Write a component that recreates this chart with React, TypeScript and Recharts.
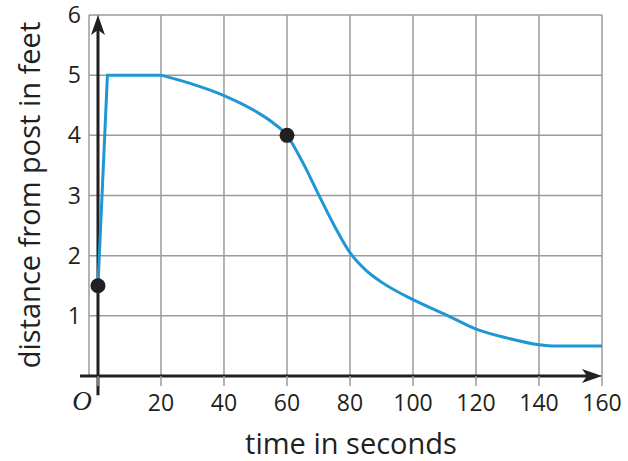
import { ComposedChart, Line, Scatter, XAxis, YAxis, CartesianGrid, ReferenceLine } from 'recharts';

const times = [0, 3, 20, 30, 40, 50, 55, 60, 65, 70, 75, 80, 85, 90, 100, 110, 120, 130, 140, 145, 160];
const distances = [1.5, 5, 5, 4.85, 4.66, 4.4, 4.23, 4.0, 3.55, 3.02, 2.5, 2.05, 1.76, 1.56, 1.27, 1.03, 0.78, 0.63, 0.52, 0.5, 0.5];

const markedTimes = [0, 60];
const markedDistances = [1.5, 4];

const xTicks = [0, 20, 40, 60, 80, 100, 120, 140, 160];
const yTicks = [1, 2, 3, 4, 5, 6];

const points = times.map((t, i) => ({ t, d: distances[i] }));
// the climb and the flat top are straight, the rest is a smooth curve
const rise = points.filter((p) => p.t <= 20);
const fall = points.filter((p) => p.t >= 20);
const marks = markedTimes.map((t, i) => ({ t, d: markedDistances[i] }));

const INK = '#231f20';
const GRID = '#9b9b9b';
const BLUE = '#1f97d4';
const FONT = '"Open Sans", sans-serif';

function XTick(props: any) {
  const { x, y, payload } = props;
  if (payload.value === 0) {
    return (
      <text x={x - 16} y={y - 4} dy="0.71em" textAnchor="middle" fontFamily='"Liberation Serif", serif'
        fontStyle="italic" fontSize={27} fill={INK}>
        O
      </text>
    );
  }
  return (
    <text x={x} y={y} dy="0.71em" textAnchor="middle" fontFamily={FONT} fontSize={23} fill={INK}>
      {payload.value}
    </text>
  );
}

// axis line drawn as a segment with an arrow head at its far end
function arrowLine(dir: 'up' | 'right') {
  return (props: any) => {
    const { x1, y1, x2, y2 } = props;
    const head = dir === 'up'
      ? `${x2},${y2} ${x2 - 7},${y2 + 20} ${x2},${y2 + 15} ${x2 + 7},${y2 + 20}`
      : `${x2},${y2} ${x2 - 20},${y2 - 7} ${x2 - 15},${y2} ${x2 - 20},${y2 + 7}`;
    return (
      <g>
        <line x1={x1} y1={y1} x2={dir === 'up' ? x2 : x2 - 10} y2={dir === 'up' ? y2 + 10 : y2}
          stroke={INK} strokeWidth={3} />
        <polygon points={head} fill={INK} />
      </g>
    );
  };
}

export default function App() {
  return (
    <div style={{ position: 'absolute', left: 0, top: 0, width: 628, height: 461, background: '#fff' }}>
      <ComposedChart width={628} height={461} margin={{ top: 15, right: 26, bottom: 55, left: 29 }}>
        <CartesianGrid stroke={GRID} strokeWidth={1.5} />
        <XAxis
          type="number"
          dataKey="t"
          domain={[-2.85, 160]}
          allowDataOverflow
          ticks={xTicks}
          height={30}
          axisLine={false}
          tickLine={{ stroke: GRID, strokeWidth: 1.5 }}
          tickSize={10}
          tickMargin={9}
          tick={<XTick />}
          interval={0}
          label={{
            content: () => (
              <text x={351} y={454} textAnchor="middle" fontFamily={FONT} fontSize={29} fill={INK}>
                time in seconds
              </text>
            ),
          }}
        />
        <YAxis
          type="number"
          dataKey="d"
          domain={[0, 6]}
          ticks={yTicks}
          width={60}
          axisLine={false}
          tickLine={false}
          interval={0}
          tick={{ fontFamily: FONT, fontSize: 23, fill: INK }}
          label={{
            content: () => (
              <text x={0} y={0} transform="translate(40,195) rotate(-90)" textAnchor="middle"
                fontFamily={FONT} fontSize={29} fill={INK}>
                distance from post in feet
              </text>
            ),
          }}
        />
        <ReferenceLine
          segment={[{ x: -5.7, y: 0 }, { x: 160, y: 0 }]}
          ifOverflow="visible"
          shape={arrowLine('right')}
        />
        <ReferenceLine
          segment={[{ x: 0, y: -0.32 }, { x: 0, y: 6 }]}
          ifOverflow="visible"
          shape={arrowLine('up')}
        />
        <Line
          data={rise}
          dataKey="d"
          type="linear"
          stroke={BLUE}
          strokeWidth={3}
          dot={false}
          activeDot={false}
          isAnimationActive={false}
        />
        <Line
          data={fall}
          dataKey="d"
          type="monotone"
          stroke={BLUE}
          strokeWidth={3}
          dot={false}
          activeDot={false}
          isAnimationActive={false}
        />
        <Scatter
          data={marks}
          dataKey="d"
          fill={INK}
          isAnimationActive={false}
          shape={(p: any) => <circle cx={p.cx} cy={p.cy} r={7.5} fill={INK} />}
        />
      </ComposedChart>
    </div>
  );
}
